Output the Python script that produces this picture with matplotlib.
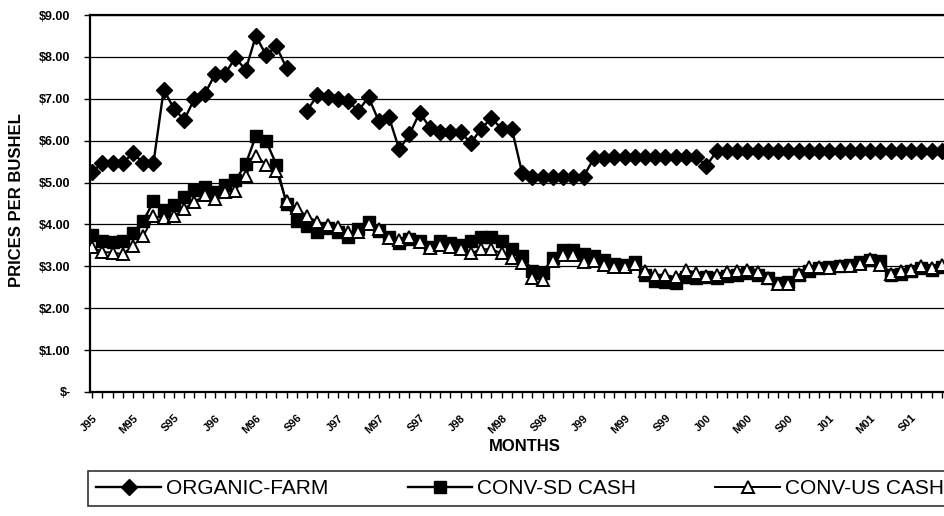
import numpy as np
import matplotlib
matplotlib.use("Agg")
import matplotlib.pyplot as plt

nan = np.nan

# monthly prices, Jan 1995 .. Dec 2001
organic = [5.25, 5.47, 5.47, 5.47, 5.70, 5.47, 5.47, 7.22, 6.76, 6.50,
           7.00, 7.11, 7.58, 7.60, 7.98, 7.69, 8.50, 8.04, 8.25, 7.73,
           nan, 6.72, 7.08, 7.05, 7.00, 6.95, 6.71, 7.04, 6.47, 6.56,
           5.79, 6.15, 6.67, 6.31, 6.21, 6.21, 6.20, 5.94, 6.29, 6.53,
           6.29, 6.28, 5.23, 5.14, 5.13, 5.13, 5.13, 5.13, 5.14, 5.58,
           5.58, 5.60, 5.60, 5.60, 5.60, 5.61, 5.61, 5.62, 5.62, 5.62,
           5.40, 5.75, 5.75, 5.75, 5.75, 5.75, 5.75, 5.75, 5.75, 5.75,
           5.75, 5.75, 5.75, 5.75, 5.75, 5.75, 5.75, 5.75, 5.75, 5.75,
           5.75, 5.75, 5.75, 5.75]

sd_cash = [3.74, 3.61, 3.57, 3.61, 3.80, 4.08, 4.55, 4.35, 4.47, 4.66,
           4.82, 4.89, 4.77, 4.93, 5.05, 5.44, 6.11, 5.99, 5.43, 4.48,
           4.08, 3.96, 3.83, 3.91, 3.83, 3.71, 3.90, 4.05, 3.85, 3.70,
           3.55, 3.65, 3.60, 3.45, 3.60, 3.55, 3.50, 3.60, 3.70, 3.70,
           3.60, 3.42, 3.25, 2.90, 2.85, 3.20, 3.40, 3.38, 3.30, 3.25,
           3.15, 3.05, 3.02, 3.10, 2.80, 2.65, 2.62, 2.60, 2.75, 2.72,
           2.75, 2.72, 2.78, 2.80, 2.85, 2.80, 2.72, 2.60, 2.62, 2.80,
           2.90, 2.95, 2.98, 3.00, 3.02, 3.10, 3.15, 3.12, 2.80, 2.82,
           2.88, 2.95, 2.92, 2.98]

us_cash = [3.46, 3.34, 3.33, 3.29, 3.49, 3.72, 4.19, 4.15, 4.19, 4.38,
           4.54, 4.70, 4.60, 4.77, 4.81, 5.16, 5.64, 5.43, 5.27, 4.55,
           4.39, 4.19, 4.07, 3.98, 3.94, 3.82, 3.82, 4.02, 3.88, 3.67,
           3.62, 3.69, 3.58, 3.44, 3.50, 3.46, 3.42, 3.31, 3.41, 3.41,
           3.31, 3.21, 3.09, 2.72, 2.68, 3.12, 3.28, 3.28, 3.10, 3.13,
           3.04, 2.98, 2.98, 3.05, 2.90, 2.80, 2.80, 2.74, 2.92, 2.84,
           2.78, 2.80, 2.86, 2.90, 2.92, 2.86, 2.72, 2.58, 2.58, 2.82,
           2.98, 2.98, 2.96, 3.00, 3.00, 3.06, 3.18, 3.04, 2.82, 2.88,
           2.92, 3.00, 2.96, 3.04]

month_labels = ["J95", "M95", "S95", "J96", "M96", "S96", "J97", "M97",
                "S97", "J98", "M98", "S98", "J99", "M99", "S99", "J00",
                "M00", "S00", "J01", "M01", "S01"]
price_labels = ["$-", "$1.00", "$2.00", "$3.00", "$4.00", "$5.00",
                "$6.00", "$7.00", "$8.00", "$9.00"]

plt.rcParams["font.family"] = ["Liberation Sans", "DejaVu Sans"]

fig = plt.figure(figsize=(9.45, 5.16), dpi=100)
ax = fig.add_axes([90 / 945, 1 - 392 / 516, 1 - 90 / 945, (392 - 15) / 516])

x = np.arange(len(organic))
ax.plot(x, organic, color="black", lw=1.7, marker="D", ms=8,
        label="ORGANIC-FARM", zorder=3)
ax.plot(x, sd_cash, color="black", lw=1.7, marker="s", ms=8.5,
        label="CONV-SD CASH", zorder=4)
ax.plot(x, us_cash, color="black", lw=1.4, marker="^", ms=8.5,
        mfc="white", mec="black", mew=1.4, label="CONV-US CASH", zorder=5)

ax.set_ylim(0, 9)
ax.set_xlim(-0.2, 83.3)
ax.set_yticks(range(len(price_labels)))
ax.set_yticklabels(price_labels, fontsize=9, fontweight="bold")
ax.set_xticks(x[::4])
ax.set_xticklabels(month_labels, fontsize=8, fontweight="bold",
                   rotation=45, ha="right", rotation_mode="anchor")
ax.set_xticks(x, minor=True)
ax.tick_params(axis="x", which="both", direction="out", length=4,
               width=1, pad=11)
ax.tick_params(axis="y", direction="out", length=4, width=1, pad=10)

ax.grid(axis="y", color="black", lw=0.9)
ax.set_axisbelow(True)
for side in ["left", "bottom", "top"]:
    ax.spines[side].set_linewidth(1.6)
ax.spines["right"].set_visible(False)

ax.set_xlabel("MONTHS", fontsize=12, fontweight="bold")
ax.xaxis.set_label_coords(0.508, -0.125)
ax.set_ylabel("PRICES PER BUSHEL", fontsize=12, fontweight="bold")
ax.yaxis.set_label_coords(-0.077, 0.51)

leg = fig.legend(loc="center left", ncol=3, fontsize=15, frameon=True,
                 fancybox=False, edgecolor="black", handlelength=3.1,
                 handletextpad=0.25, mode="expand",
                 bbox_to_anchor=(0.093, 0.008, 0.915, 0.09),
                 bbox_transform=fig.transFigure, borderaxespad=0)
leg.get_frame().set_linewidth(1.2)

fig.savefig("out.png", dpi=100)
